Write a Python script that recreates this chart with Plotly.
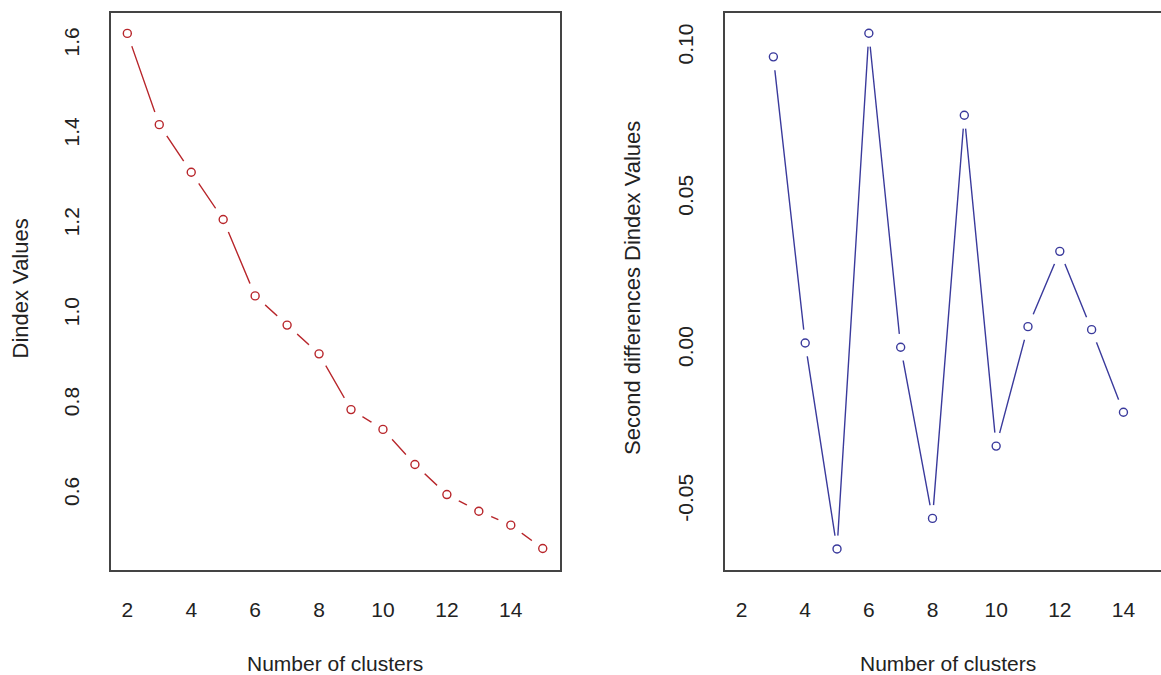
import plotly.graph_objects as go

# ---- data ----
clusters = list(range(2, 16))
dindex_values = [1.626, 1.423, 1.317, 1.212, 1.042, 0.977, 0.913, 0.789,
                 0.745, 0.667, 0.600, 0.563, 0.532, 0.480]

clusters_2nd = list(range(3, 15))
second_diff = [0.0968, 0.0022, -0.0659, 0.1046, 0.0008, -0.0558, 0.0775,
               -0.0319, 0.0076, 0.0325, 0.0066, -0.0207]

x_ticks = [2, 4, 6, 8, 10, 12, 14]
y1_ticks = [0.6, 0.8, 1.0, 1.2, 1.4, 1.6]
y1_ticktext = ["0.6", "0.8", "1.0", "1.2", "1.4", "1.6"]
y2_ticks = [-0.05, 0.0, 0.05, 0.10]
y2_ticktext = ["-0.05", "0.00", "0.05", "0.10"]

RED = "#B8262B"
BLUE = "#3A3A9C"
BOX = "#444444"
FONT = "Liberation Sans, Arial, sans-serif"
TXT = "#222222"
W, H = 1161, 675

fig = go.Figure()


def add_series(x, y, color, xa, ya):
    fig.add_trace(go.Scatter(x=x, y=y, mode="lines", xaxis=xa, yaxis=ya,
                             line=dict(color=color, width=1.4),
                             hoverinfo="skip", showlegend=False))
    fig.add_trace(go.Scatter(x=x, y=y, mode="markers", xaxis=xa, yaxis=ya,
                             marker=dict(size=27, color="white",
                                         line=dict(width=0)),
                             hoverinfo="skip", showlegend=False))
    fig.add_trace(go.Scatter(x=x, y=y, mode="markers", xaxis=xa, yaxis=ya,
                             marker=dict(size=8, symbol="circle-open",
                                         color=color, line=dict(width=1.4)),
                             showlegend=False))


add_series(clusters, dindex_values, RED, "x", "y")
add_series(clusters_2nd, second_diff, BLUE, "x2", "y2")

ydom = [1 - 569.5 / H, 1 - 12.7 / H]
common_x = dict(showgrid=False, zeroline=False, showline=True,
                linecolor=BOX, linewidth=1.5, ticks="",
                tickvals=x_ticks, ticklabelstandoff=21,
                tickfont=dict(family=FONT, size=21, color=TXT))
common_y = dict(showgrid=False, zeroline=False, showline=True,
                linecolor=BOX, linewidth=1.5, ticks="", tickangle=-90,
                ticklabelstandoff=22,
                tickfont=dict(family=FONT, size=21, color=TXT))

fig.update_layout(
    width=W, height=H,
    margin=dict(l=0, r=0, t=0, b=0),
    paper_bgcolor="white", plot_bgcolor="white",
    font=dict(family=FONT, color=TXT),
    xaxis=dict(domain=[110.7 / W, 560 / W], range=[1.48, 15.54],
               mirror=True, anchor="y", **common_x),
    yaxis=dict(domain=ydom, range=[0.4333, 1.672], mirror=True,
               anchor="x", tickvals=y1_ticks, ticktext=y1_ticktext,
               **common_y),
    xaxis2=dict(domain=[725 / W, 1.0], range=[1.48, 15.18],
                mirror=True, anchor="y2", **common_x),
    yaxis2=dict(domain=ydom, range=[-0.0727, 0.1114], mirror=False,
                anchor="x2", tickvals=y2_ticks, ticktext=y2_ticktext,
                **common_y),
    annotations=[
        dict(text="Number of clusters", x=335 / W, y=1 - 663.5 / H,
             xref="paper", yref="paper", showarrow=False,
             xanchor="center", yanchor="middle",
             font=dict(family=FONT, size=21, color=TXT)),
        dict(text="Number of clusters", x=948 / W, y=1 - 663.5 / H,
             xref="paper", yref="paper", showarrow=False,
             xanchor="center", yanchor="middle",
             font=dict(family=FONT, size=21, color=TXT)),
        dict(text="Dindex Values", x=19.5 / W, y=1 - 289 / H,
             xref="paper", yref="paper", showarrow=False, textangle=-90,
             xanchor="center", yanchor="middle",
             font=dict(family=FONT, size=22, color=TXT)),
        dict(text="Second differences Dindex Values", x=632 / W,
             y=1 - 288 / H, xref="paper", yref="paper", showarrow=False,
             textangle=-90, xanchor="center", yanchor="middle",
             font=dict(family=FONT, size=22, color=TXT)),
    ],
)

fig.write_html(
    "out.html",
    config={"displayModeBar": False},
    post_script="document.body.style.margin='0';document.body.style.overflow='hidden';",
)
